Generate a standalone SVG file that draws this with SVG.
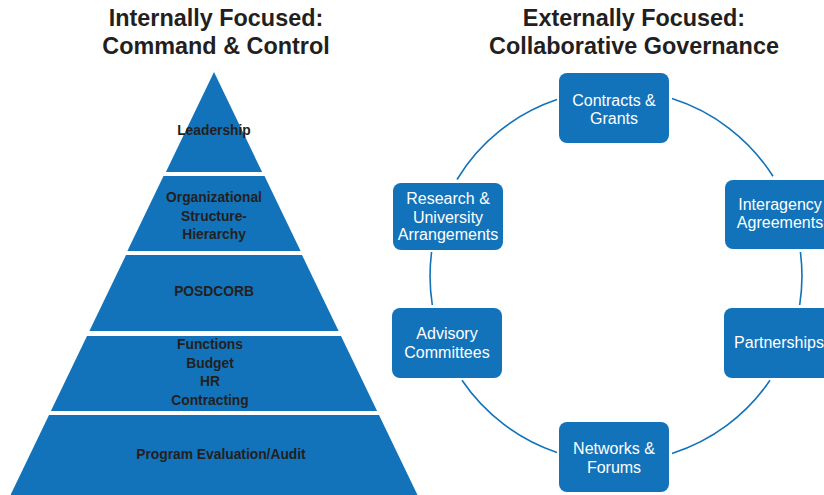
<svg xmlns="http://www.w3.org/2000/svg" width="824" height="495" viewBox="0 0 824 495">
<style>
.title{font-family:"Liberation Sans",Arial,sans-serif;font-weight:bold;font-size:23.4px;fill:#231f20;text-anchor:middle}
.band{fill:#1273ba}
.pt{font-family:"Liberation Sans",Arial,sans-serif;font-weight:bold;font-size:13.8px;fill:#231f20;text-anchor:middle}
.box{fill:#1273ba}
.bt{font-family:"Liberation Sans",Arial,sans-serif;font-size:16px;fill:#ffffff;text-anchor:middle}
.arc{fill:none;stroke:#1273ba;stroke-width:1.6}
</style>
<rect width="824" height="495" fill="#ffffff"/>
<g id="title-left">
<text class="title" x="216" y="26">Internally Focused:</text>
<text class="title" x="216" y="54">Command &amp; Control</text>
</g>
<g id="title-right">
<text class="title" x="634" y="26">Externally Focused:</text>
<text class="title" x="634" y="54">Collaborative Governance</text>
</g>
<g id="pyramid">
<g id="p-leadership">
<polygon class="band" points="214,72 262.1,172 165.9,172"/>
<text class="pt" x="214" y="135">Leadership</text>
</g>
<g id="p-structure">
<polygon class="band" points="163.5,176 264.5,176 300.6,251 127.4,251"/>
<text class="pt" x="214" y="202">Organizational</text>
<text class="pt" x="214" y="221">Structure-</text>
<text class="pt" x="214" y="239">Hierarchy</text>
</g>
<g id="p-posdcorb">
<polygon class="band" points="126,255 302,255 338.6,331 89.4,331"/>
<text class="pt" x="214" y="296">POSDCORB</text>
</g>
<g id="p-functions">
<polygon class="band" points="87,336 341,336 377.1,411 50.9,411"/>
<text class="pt" x="210" y="349">Functions</text>
<text class="pt" x="210" y="368">Budget</text>
<text class="pt" x="210" y="386">HR</text>
<text class="pt" x="210" y="405">Contracting</text>
</g>
<g id="p-evaluation">
<polygon class="band" points="49,415 379,415 419.9,500 8.1,500"/>
<text class="pt" x="221" y="459">Program Evaluation/Audit</text>
</g>
</g>
<g id="connectors">
<path class="arc" d="M672,98.6 A186,186 0 0 1 773,176.3"/>
<path class="arc" d="M800.4,252 A186,186 0 0 1 799.7,305"/>
<path class="arc" d="M770,380.3 A186,186 0 0 1 672,453.4"/>
<path class="arc" d="M557,452.4 A186,186 0 0 1 462,380.3"/>
<path class="arc" d="M432.3,305 A186,186 0 0 1 431.6,252"/>
<path class="arc" d="M457,179.5 A186,186 0 0 1 557,99.6"/>
</g>
<g id="n-contracts">
<rect class="box" x="559" y="73" width="110" height="70" rx="8"/>
<text class="bt" x="614" y="105.6">Contracts &amp;</text>
<text class="bt" x="614" y="123.6">Grants</text>
</g>
<g id="n-interagency">
<rect class="box" x="725" y="180" width="110" height="69" rx="8"/>
<text class="bt" x="780" y="209.6">Interagency</text>
<text class="bt" x="780" y="227.6">Agreements</text>
</g>
<g id="n-partnerships">
<rect class="box" x="724" y="308" width="110" height="70" rx="8"/>
<text class="bt" x="779" y="347.6">Partnerships</text>
</g>
<g id="n-networks">
<rect class="box" x="559" y="422" width="110" height="70" rx="8"/>
<text class="bt" x="614" y="453.6">Networks &amp;</text>
<text class="bt" x="614" y="472.6">Forums</text>
</g>
<g id="n-advisory">
<rect class="box" x="392" y="308" width="110" height="70" rx="8"/>
<text class="bt" x="447" y="338.6">Advisory</text>
<text class="bt" x="447" y="357.6">Committees</text>
</g>
<g id="n-research">
<rect class="box" x="393" y="183" width="110" height="67" rx="8"/>
<text class="bt" x="448" y="203.6">Research &amp;</text>
<text class="bt" x="448" y="222.6">University</text>
<text class="bt" x="448" y="240">Arrangements</text>
</g>
</svg>
